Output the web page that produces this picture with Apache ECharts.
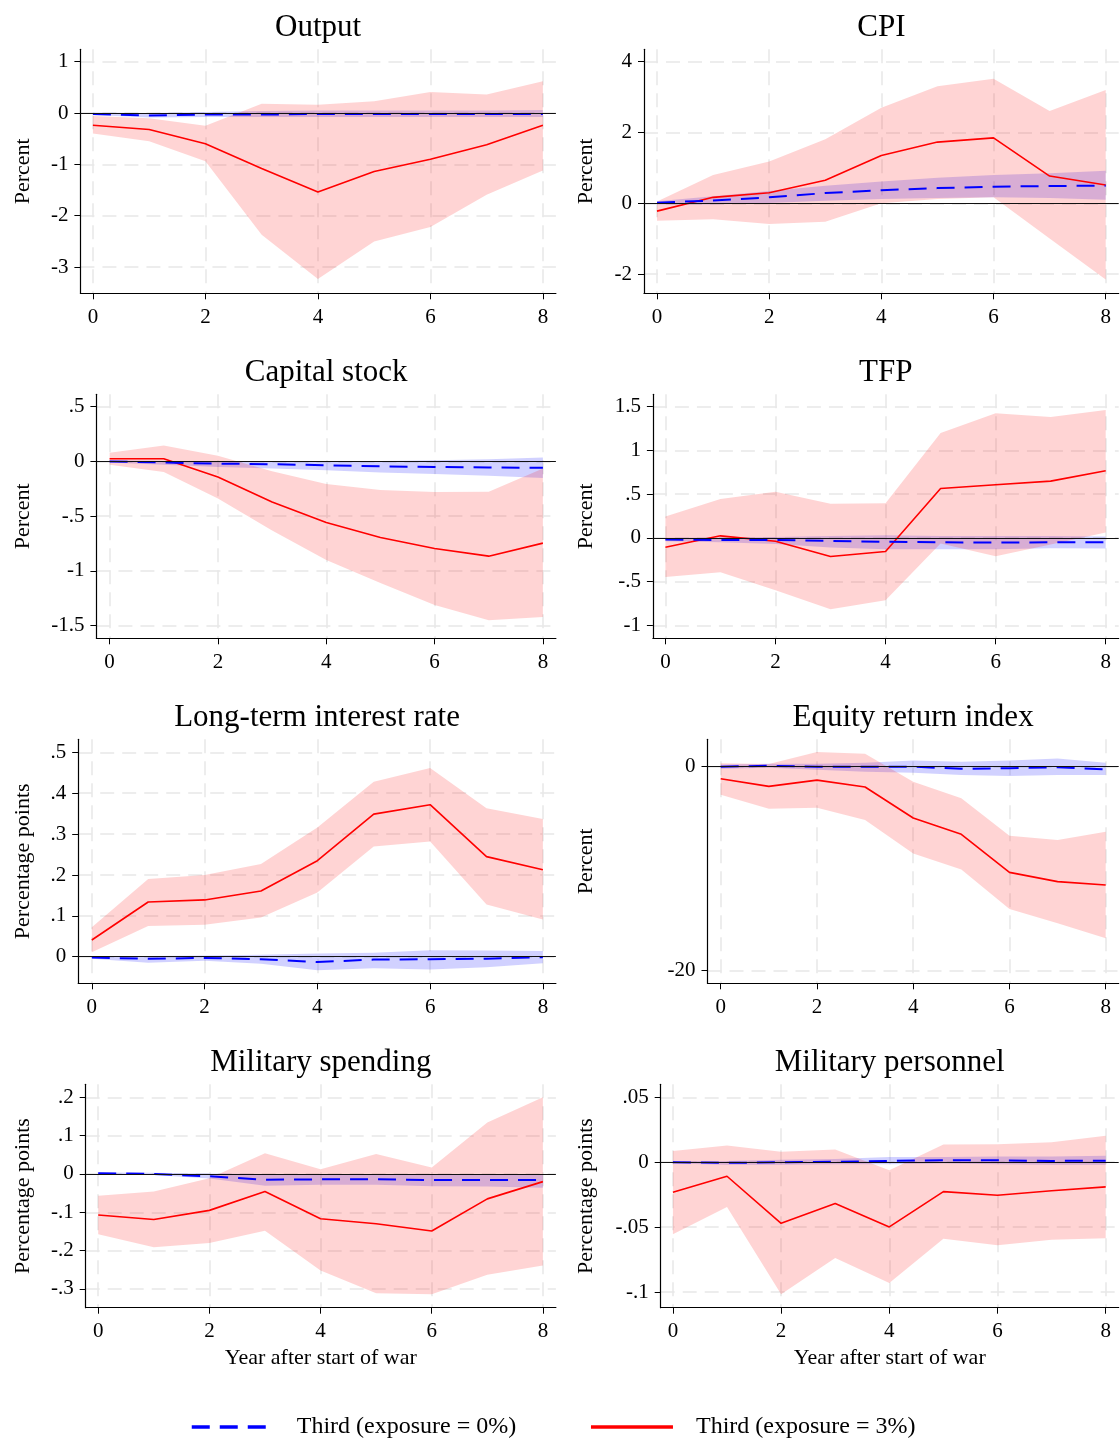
<!DOCTYPE html>
<html><head><meta charset="utf-8">
<script src="https://cdn.jsdelivr.net/npm/echarts@6/dist/echarts.min.js"></script>
<style>html,body{margin:0;padding:0;background:#fff}#c{width:1120px;height:1441px}</style>
</head><body><div id="c"></div>
<script>
// ---------- DATA ----------
const years = [0,1,2,3,4,5,6,7,8];
const xTicks = [0,2,4,6,8];
const legendNames = ['Third (exposure = 0%)', 'Third (exposure = 3%)'];
const xAxisTitle = 'Year after start of war';

// Output
const outputRed    = [-0.24,-0.32,-0.60,-1.08,-1.54,-1.14,-0.90,-0.62,-0.24];
const outputRedHi  = [-0.06,-0.10,-0.25,0.18,0.16,0.23,0.41,0.36,0.62];
const outputRedLo  = [-0.40,-0.55,-0.94,-2.37,-3.23,-2.50,-2.22,-1.59,-1.12];
const outputBlue   = [-0.02,-0.05,-0.03,-0.03,-0.02,-0.02,-0.02,-0.02,-0.02];
const outputBlueHi = [0.01,0.00,0.02,0.04,0.05,0.05,0.05,0.05,0.06];
const outputBlueLo = [-0.04,-0.09,-0.08,-0.08,-0.08,-0.08,-0.08,-0.08,-0.08];
const outputYTicks = [-3,-2,-1,0,1];

// CPI
const cpiRed    = [-0.22,0.17,0.30,0.65,1.35,1.73,1.85,0.77,0.52];
const cpiRedHi  = [0.05,0.80,1.18,1.81,2.70,3.31,3.52,2.61,3.20];
const cpiRedLo  = [-0.49,-0.45,-0.58,-0.52,0.0,0.12,0.17,-0.99,-2.15];
const cpiBlue   = [0.02,0.08,0.17,0.29,0.37,0.43,0.47,0.49,0.50];
const cpiBlueHi = [0.06,0.20,0.35,0.50,0.62,0.72,0.80,0.85,0.92];
const cpiBlueLo = [-0.03,-0.03,0.01,0.07,0.12,0.15,0.17,0.15,0.10];
const cpiYTicks = [-2,0,2,4];

// Capital stock
const capRed    = [0.024,0.024,-0.143,-0.37,-0.557,-0.694,-0.795,-0.865,-0.746];
const capRedHi  = [0.08,0.146,0.052,-0.09,-0.207,-0.26,-0.28,-0.277,-0.064];
const capRedLo  = [-0.03,-0.097,-0.338,-0.63,-0.90,-1.11,-1.31,-1.45,-1.42];
const capBlue   = [0,-0.01,-0.02,-0.025,-0.035,-0.045,-0.05,-0.055,-0.058];
const capBlueHi = [0.01,0.005,0,0,0,0.005,0.01,0.02,0.035];
const capBlueLo = [-0.01,-0.03,-0.05,-0.065,-0.08,-0.1,-0.115,-0.13,-0.152];
const capYTicks = [-1.5,-1,-0.5,0,0.5];

// TFP
const tfpRed    = [-0.107,0.023,-0.038,-0.214,-0.157,0.565,0.607,0.649,0.767];
const tfpRedHi  = [0.244,0.443,0.527,0.389,0.397,1.198,1.424,1.382,1.462];
const tfpRedLo  = [-0.447,-0.393,-0.6,-0.817,-0.714,-0.065,-0.21,-0.076,0.061];
const tfpBlue   = [-0.02,-0.025,-0.025,-0.035,-0.045,-0.05,-0.055,-0.05,-0.05];
const tfpBlueHi = [0.0,0.005,0.01,0.02,0.03,0.02,0.02,0.02,0.015];
const tfpBlueLo = [-0.04,-0.05,-0.07,-0.11,-0.13,-0.13,-0.13,-0.12,-0.122];
const tfpYTicks = [-1,-0.5,0,0.5,1,1.5];

// Long-term interest rate
const ltrRed    = [0.041,0.134,0.139,0.161,0.235,0.349,0.372,0.245,0.213];
const ltrRedHi  = [0.072,0.19,0.2,0.227,0.316,0.428,0.462,0.363,0.337];
const ltrRedLo  = [0.011,0.075,0.078,0.096,0.157,0.27,0.282,0.128,0.091];
const ltrBlue   = [-0.002,-0.005,-0.003,-0.006,-0.013,-0.007,-0.006,-0.005,-0.001];
const ltrBlueHi = [0.0,0.002,0.003,0.005,0.008,0.01,0.016,0.015,0.014];
const ltrBlueLo = [-0.005,-0.015,-0.01,-0.017,-0.033,-0.028,-0.031,-0.026,-0.016];
const ltrYTicks = [0,0.1,0.2,0.3,0.4,0.5];

// Equity return index
const eqRed    = [-1.18,-1.93,-1.31,-1.99,-5.03,-6.63,-10.36,-11.27,-11.6];
const eqRedHi  = [0.33,0.26,1.44,1.27,-1.47,-3.1,-6.76,-7.19,-6.37];
const eqRedLo  = [-2.75,-4.12,-4.02,-5.23,-8.5,-10.07,-13.95,-15.36,-16.83];
const eqBlue   = [0,0.1,0,0,0,-0.2,-0.15,-0.05,-0.25];
const eqBlueHi = [0.2,0.3,0.3,0.4,0.6,0.5,0.6,0.8,0.4];
const eqBlueLo = [-0.2,-0.1,-0.3,-0.5,-0.6,-0.8,-0.9,-0.8,-0.8];
const eqYTicks = [-20,0];

// Military spending
const msRed    = [-0.107,-0.119,-0.095,-0.046,-0.117,-0.13,-0.149,-0.065,-0.02];
const msRedHi  = [-0.057,-0.046,-0.011,0.054,0.012,0.052,0.017,0.134,0.2];
const msRedLo  = [-0.157,-0.191,-0.18,-0.148,-0.252,-0.311,-0.314,-0.263,-0.239];
const msBlue   = [0.002,0.0,-0.006,-0.015,-0.014,-0.014,-0.016,-0.016,-0.016];
const msBlueHi = [0.004,0.003,0.001,0.0,0.0,0.0,0.0,0.0,0.0];
const msBlueLo = [0.0,-0.003,-0.012,-0.031,-0.028,-0.028,-0.032,-0.033,-0.036];
const msYTicks = [-0.3,-0.2,-0.1,0,0.1,0.2];

// Military personnel
const mpRed    = [-0.0231,-0.0108,-0.047,-0.0318,-0.0498,-0.0226,-0.0254,-0.022,-0.019];
const mpRedHi  = [0.0087,0.0128,0.008,0.0098,-0.0062,0.0136,0.0139,0.0154,0.0203];
const mpRedLo  = [-0.0555,-0.0344,-0.1017,-0.0737,-0.093,-0.059,-0.064,-0.0596,-0.0585];
const mpBlue   = [0,-0.0005,0,0.0003,0.001,0.0015,0.0015,0.001,0.0012];
const mpBlueHi = [0.001,0.001,0.002,0.0025,0.004,0.004,0.0045,0.0045,0.005];
const mpBlueLo = [-0.001,-0.002,-0.002,-0.0015,-0.0015,-0.001,-0.0015,-0.002,-0.002];
const mpYTicks = [-0.1,-0.05,0,0.05];

const panels = [
  {title:'Output', yName:'Percent', yTicks:outputYTicks, red:outputRed, redHi:outputRedHi, redLo:outputRedLo, blue:outputBlue, blueHi:outputBlueHi, blueLo:outputBlueLo},
  {title:'CPI', yName:'Percent', yTicks:cpiYTicks, red:cpiRed, redHi:cpiRedHi, redLo:cpiRedLo, blue:cpiBlue, blueHi:cpiBlueHi, blueLo:cpiBlueLo},
  {title:'Capital stock', yName:'Percent', yTicks:capYTicks, red:capRed, redHi:capRedHi, redLo:capRedLo, blue:capBlue, blueHi:capBlueHi, blueLo:capBlueLo},
  {title:'TFP', yName:'Percent', yTicks:tfpYTicks, red:tfpRed, redHi:tfpRedHi, redLo:tfpRedLo, blue:tfpBlue, blueHi:tfpBlueHi, blueLo:tfpBlueLo},
  {title:'Long-term interest rate', yName:'Percentage points', yTicks:ltrYTicks, red:ltrRed, redHi:ltrRedHi, redLo:ltrRedLo, blue:ltrBlue, blueHi:ltrBlueHi, blueLo:ltrBlueLo},
  {title:'Equity return index', yName:'Percent', yTicks:eqYTicks, red:eqRed, redHi:eqRedHi, redLo:eqRedLo, blue:eqBlue, blueHi:eqBlueHi, blueLo:eqBlueLo},
  {title:'Military spending', yName:'Percentage points', yTicks:msYTicks, red:msRed, redHi:msRedHi, redLo:msRedLo, blue:msBlue, blueHi:msBlueHi, blueLo:msBlueLo, xName:xAxisTitle},
  {title:'Military personnel', yName:'Percentage points', yTicks:mpYTicks, red:mpRed, redHi:mpRedHi, redLo:mpRedLo, blue:mpBlue, blueHi:mpBlueHi, blueLo:mpBlueLo, xName:xAxisTitle}
];

// ---------- LAYOUT (pixels / axis ranges) ----------
const rowTop = [49.3, 394.3, 739.3, 1084.3];
const rowBottom = [293.3, 638.3, 983.3, 1307.7];
const rowTitleY = [28, 373, 718, 1063];
const colX8 = [542.9, 1105.7];
const colNameX = [23, 586];
const PAD = 13;
const layouts = [
  {L:80.4,  x0:92.9,  ymin:-3.51, ymax:1.24},
  {L:644.0, x0:657.0, ymin:-2.54, ymax:4.35},
  {L:96.4,  x0:109.6, ymin:-1.615, ymax:0.613},
  {L:652.9, x0:665.4, ymin:-1.149, ymax:1.642},
  {L:78.2,  x0:91.8,  ymin:-0.065, ymax:0.532},
  {L:707.5, x0:720.7, ymin:-21.24, ymax:2.69},
  {L:85.7,  x0:98.2,  ymin:-0.349, ymax:0.234},
  {L:660.7, x0:672.9, ymin:-0.112, ymax:0.06}
];

const FONT = '"Liberation Serif", "DejaVu Serif", serif';
const RED = '#ff0000', BLUE = '#0000ff';
const RED_FILL = 'rgba(255,0,0,0.17)', BLUE_FILL = 'rgba(0,0,255,0.18)';

function fmt(v){
  let s = String(+(+v).toFixed(6));
  return s.replace(/^(-?)0\./, '$1.');
}

function bandSeries(i, lo, hi, fill){
  return {
    type:'custom', xAxisIndex:i, yAxisIndex:i, silent:true, z:1, clip:true,
    data: years.map((x,k)=>[x, lo[k], hi[k]]),
    encode:{x:0, y:[1,2]},
    renderItem:function(params, api){
      if (params.dataIndex !== 0) return null;
      const pts = [];
      for (let k=0;k<years.length;k++) pts.push(api.coord([years[k], hi[k]]));
      for (let k=years.length-1;k>=0;k--) pts.push(api.coord([years[k], lo[k]]));
      return {type:'polygon', shape:{points:pts}, style:{fill:fill, stroke:null}};
    }
  };
}

const grids=[], xAxes=[], yAxes=[], series=[], titles=[];
panels.forEach((p,i)=>{
  const row = Math.floor(i/2), col = i%2;
  const lay = layouts[i];
  const x8 = colX8[col];
  const ppu = (x8 - lay.x0)/8;
  const R = x8 + PAD;
  const top = rowTop[row], bottom = rowBottom[row];
  grids.push({left:lay.L, top:top, width:R-lay.L, height:bottom-top, containLabel:false, outerBoundsMode:'none'});
  titles.push({text:p.title, left:(lay.L+R)/2, top:rowTitleY[row]-18, textAlign:'center', padding:0,
    textStyle:{fontFamily:FONT, fontSize:31, fontWeight:'normal', color:'#000', lineHeight:36}});
  const grid = {show:true, lineStyle:{color:'#e8e8e8', width:1.5, type:[14,8]}};
  xAxes.push({
    type:'value', gridIndex:i, min:-(lay.x0-lay.L)/ppu, max:8+PAD/ppu,
    axisLine:{show:true, onZero:false, lineStyle:{color:'#000', width:1.2}},
    axisTick:{show:true, customValues:xTicks, length:6, lineStyle:{color:'#000', width:1}},
    axisLabel:{customValues:xTicks, margin:13, fontFamily:FONT, fontSize:21, color:'#000', lineHeight:22, formatter:fmt},
    splitLine:grid,
    name:p.xName||'', nameLocation:'middle', nameGap:39, nameMoveOverlap:false,
    nameTextStyle:{fontFamily:FONT, fontSize:22, color:'#000', lineHeight:24}
  });
  yAxes.push({
    type:'value', gridIndex:i, min:lay.ymin, max:lay.ymax,
    axisLine:{show:true, onZero:false, lineStyle:{color:'#000', width:1.2}},
    axisTick:{show:true, customValues:p.yTicks, length:6, lineStyle:{color:'#000', width:1}},
    axisLabel:{customValues:p.yTicks, margin:12, fontFamily:FONT, fontSize:21, color:'#000', formatter:fmt},
    splitLine:grid,
    name:p.yName, nameLocation:'middle', nameGap:lay.L-colNameX[col]-12, nameMoveOverlap:false,
    nameTextStyle:{fontFamily:FONT, fontSize:22, color:'#000', lineHeight:24}
  });
  series.push(bandSeries(i, p.blueLo, p.blueHi, BLUE_FILL));
  series.push(bandSeries(i, p.redLo, p.redHi, RED_FILL));
  series.push({
    type:'line', name:legendNames[1], xAxisIndex:i, yAxisIndex:i, z:3,
    data: years.map((x,k)=>[x, p.red[k]]), symbol:'none', silent:true,
    lineStyle:{color:RED, width:1.6}, itemStyle:{color:RED},
    markLine:{silent:true, symbol:['none','none'], label:{show:false}, animation:false,
      lineStyle:{color:'#111', width:1, type:'solid'}, data:[{yAxis:0}]}
  });
  series.push({
    type:'line', name:legendNames[0], xAxisIndex:i, yAxisIndex:i, z:4,
    data: years.map((x,k)=>[x, p.blue[k]]), symbol:'none', silent:true,
    lineStyle:{color:BLUE, width:2, type:[18,10]}, itemStyle:{color:BLUE}
  });
});

const chart = echarts.init(document.getElementById('c'), null, {renderer:'canvas', width:1120, height:1441});
chart.setOption({
  animation:false,
  backgroundColor:'#fff',
  title:titles,
  grid:grids, xAxis:xAxes, yAxis:yAxes, series:series,
  legend:{
    orient:'horizontal', bottom:0, left:190, padding:0,
    itemWidth:82, itemHeight:14, itemGap:73,
    data:[legendNames[0], legendNames[1]],
    itemStyle:{opacity:0},
    lineStyle:{width:3.5},
    formatter:function(n){ return '   ' + n; },
    textStyle:{fontFamily:FONT, fontSize:24, color:'#000', lineHeight:28}
  }
});
</script>
</body></html>
